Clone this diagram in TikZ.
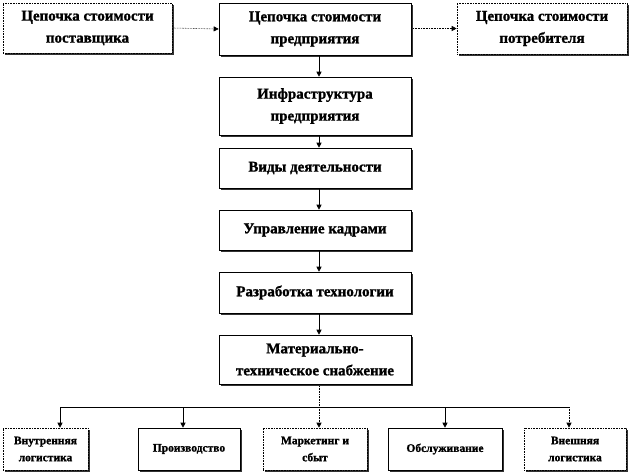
\documentclass[tikz,border=0pt]{standalone}
\usepackage{fontspec}
\setmainfont{Liberation Serif}
\newfontfamily\heavy{Liberation Serif}[FakeBold=1.2]
\usetikzlibrary{arrows.meta,shadows}
\begin{document}
\begin{tikzpicture}[x=1pt,y=-1pt,
  box/.style={draw=black,fill=white,line width=0.6pt,align=center,inner sep=2pt,
    font=\heavy\fontsize{15}{22}\selectfont\bfseries,
    drop shadow={shadow xshift=1.5pt,shadow yshift=-1.5pt,fill=black!80,opacity=1}},
  dbox/.style={box,densely dotted},
  small/.style={font=\heavy\fontsize{11.5}{17}\selectfont\bfseries},
  arr/.style={-{Triangle[length=5pt,width=5pt]},line width=0.6pt},
  darr/.style={arr,densely dotted}]
\useasboundingbox (0,0) rectangle (630,472);
% top row
\node[dbox,minimum width=169pt,minimum height=50pt] (sup) at (87.5,28) {Цепочка стоимости\\поставщика};
\node[box,minimum width=192pt,minimum height=52pt] (ent) at (315,29) {Цепочка стоимости\\предприятия};
\node[dbox,minimum width=170pt,minimum height=51pt] (con) at (542,28.5) {Цепочка стоимости\\потребителя};
% column
\node[box,minimum width=192pt,minimum height=58pt] (inf) at (315,106) {Инфраструктура\\предприятия};
\node[box,minimum width=192pt,minimum height=40pt] (vid) at (315,168) {Виды деятельности};
\node[box,minimum width=192pt,minimum height=40pt] (upr) at (315,230) {Управление кадрами};
\node[box,minimum width=192pt,minimum height=41pt] (raz) at (315,292.5) {Разработка технологии};
\node[box,minimum width=192pt,minimum height=49pt] (mat) at (315,359.5) {Материально-\\техническое снабжение};
% bottom row
\node[dbox,small,minimum width=85pt,minimum height=42pt] (b1) at (45.5,449) {Внутренняя\\логистика};
\node[box,small,minimum width=102pt,minimum height=42pt] (b2) at (189,449) {Производство};
\node[dbox,small,minimum width=104pt,minimum height=42pt] (b3) at (315,449) {Маркетинг и\\сбыт};
\node[box,small,minimum width=114pt,minimum height=42pt] (b4) at (445,449) {Обслуживание};
\node[dbox,small,minimum width=102pt,minimum height=42pt] (b5) at (575,449) {Внешняя\\логистика};
% connectors
\draw[darr] (sup.east) -- (ent.west);
\draw[darr] (ent.east |- con.west) -- (con.west);
\draw[arr] (ent.south -| 319,0) -- (inf.north -| 319,0);
\draw[arr] (inf.south -| 319,0) -- (vid.north -| 319,0);
\draw[arr] (vid.south -| 319,0) -- (upr.north -| 319,0);
\draw[arr] (upr.south -| 319,0) -- (raz.north -| 319,0);
\draw[arr] (raz.south -| 319,0) -- (mat.north -| 319,0);
\coordinate (j) at (319,407);
\coordinate (l1) at (60,407);
\coordinate (l5) at (569,407);
\draw[line width=0.6pt,densely dotted] (mat.south -| j) -- (j);
\draw[line width=0.6pt] (l1) -- (l5);
\draw[arr] (l1) -- (b1.north -| l1);
\draw[arr] (183,407) -- (b2.north -| 183,0);
\draw[darr] (j) -- (b3.north -| j);
\draw[arr] (445,407) -- (b4.north -| 445,0);
\draw[darr] (l5) -- (b5.north -| l5);
\end{tikzpicture}
\end{document}
